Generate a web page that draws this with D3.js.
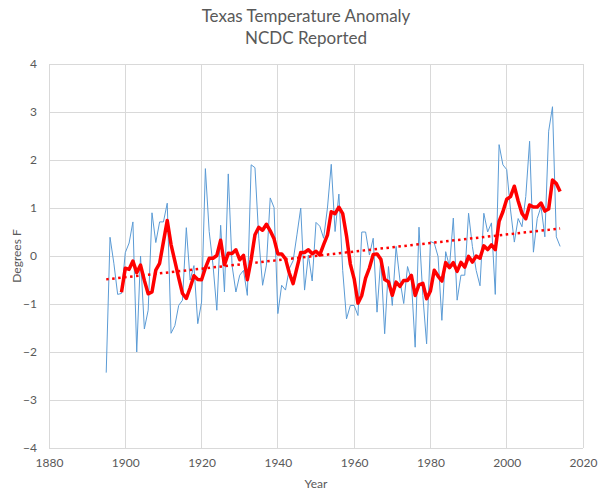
<!DOCTYPE html>
<html>
<head>
<meta charset="utf-8">
<script src="https://cdn.jsdelivr.net/npm/d3@7"></script>
<style>
  html, body { margin: 0; padding: 0; background: #fff; overflow: hidden; }
  svg { display: block; }
  svg text { font-family: Lato, "Open Sans", sans-serif; }
</style>
</head>
<body>
<div id="chart"></div>
<script>
// Texas annual temperature anomaly (deg F)
const firstYear = 1895;
const anomaly = [
  -2.43, 0.39, -0.15, -0.80, -0.78, 0.07, 0.27, 0.71, -2.00, 0.00,   // 1895-1904
  -1.52, -1.13, 0.90, 0.28, 0.71, 0.71, 1.10, -1.61, -1.45, -1.03,   // 1905-1914
  -0.92, 0.59, -0.50, -0.20, -1.41, -0.96, 1.82, 0.51, -0.19, -1.13, // 1915-1924
  0.64, -0.75, 1.71, -0.20, -0.75, -0.40, -0.30, -0.82, 1.90, 1.84,  // 1925-1934
  0.37, -0.61, -0.19, 1.21, 1.01, -1.20, -0.61, -0.71, -0.26, -0.10, // 1935-1944
  0.44, 1.00, -0.71, 0.02, -0.52, 0.70, 0.62, 0.37, 1.00, 1.91,      // 1945-1954
  0.51, 1.29, -0.30, -1.31, -1.03, -1.03, -1.24, 0.50, 0.50, 0.02,   // 1955-1964
  0.37, -1.17, -0.05, -1.62, -0.22, -1.03, 0.20, -0.50, -0.99, -0.22,// 1965-1974
  -0.50, -1.90, 0.60, -0.82, -1.83, 0.30, 0.27, -0.01, -1.34, 0.09,  // 1975-1984
  -0.22, 0.79, -0.92, -0.40, -0.40, 0.89, 0.20, -0.30, -0.62, 0.89,  // 1985-1994
  0.50, 0.69, -0.80, 2.32, 1.90, 1.80, 0.96, 0.29, 0.78, 0.61,       // 1995-2004
  1.24, 2.39, 0.08, 0.78, 1.03, 0.40, 2.60, 3.11, 0.40, 0.20         // 2005-2014
];
const years = anomaly.map((v, i) => firstYear + i);

const xTicks = [1880, 1900, 1920, 1940, 1960, 1980, 2000, 2020];
const yTicks = [-4, -3, -2, -1, 0, 1, 2, 3, 4];
const titleLines = ['Texas Temperature Anomaly', 'NCDC Reported'];
const maPeriod = 5;

const width = 604, height = 502;
const margin = { top: 64, right: 21, bottom: 54, left: 49 };
const innerWidth = width - margin.left - margin.right;
const innerHeight = height - margin.top - margin.bottom;

const points = years.map((y, i) => ({ year: y, value: anomaly[i] }));

// Excel-style trailing moving average
const movingAvg = points.slice(maPeriod - 1).map((p, i) => ({
  year: p.year,
  value: d3.mean(points.slice(i, i + maPeriod), d => d.value)
}));

// Least-squares linear trend
const mx = d3.mean(points, d => d.year), my = d3.mean(points, d => d.value);
const slope = d3.sum(points, d => (d.year - mx) * (d.value - my)) /
              d3.sum(points, d => (d.year - mx) ** 2);
const trend = [years[0], years[years.length - 1]].map(y => ({ year: y, value: my + slope * (y - mx) }));

const svg = d3.select('#chart').append('svg')
  .attr('width', width).attr('height', height);

const x = d3.scaleLinear().domain([1880, 2020]).range([0, innerWidth]);
const y = d3.scaleLinear().domain([-4, 4]).range([innerHeight, 0]);

const g = svg.append('g').attr('transform', `translate(${margin.left},${margin.top})`);

// gridlines
g.append('g').selectAll('line').data(yTicks).enter().append('line')
  .attr('x1', 0).attr('x2', innerWidth)
  .attr('y1', d => y(d)).attr('y2', d => y(d))
  .attr('stroke', '#d9d9d9').attr('stroke-width', 1).attr('shape-rendering', 'crispEdges');
g.append('g').selectAll('line').data(xTicks).enter().append('line')
  .attr('x1', d => x(d)).attr('x2', d => x(d))
  .attr('y1', 0).attr('y2', innerHeight)
  .attr('stroke', '#d9d9d9').attr('stroke-width', 1).attr('shape-rendering', 'crispEdges');

// axes (labels only)
const yAxis = g.append('g').call(d3.axisLeft(y).tickValues(yTicks).tickSize(0).tickPadding(12));
const xAxis = g.append('g').attr('transform', `translate(0,${innerHeight})`)
  .call(d3.axisBottom(x).tickValues(xTicks).tickFormat(d3.format('d')).tickSize(0).tickPadding(10));
[yAxis, xAxis].forEach(a => {
  a.attr('font-family', null).attr('font-size', null);
  a.select('.domain').remove();
  a.selectAll('text').attr('fill', '#595959').style('font-size', '12px');
});

const line = d3.line().x(d => x(d.year)).y(d => y(d.value));

g.append('path').datum(points)
  .attr('fill', 'none').attr('stroke', '#5b9bd5').attr('stroke-width', 1)
  .attr('stroke-linejoin', 'round').attr('d', line);

g.append('path').datum(trend)
  .attr('fill', 'none').attr('stroke', '#ff0000').attr('stroke-width', 2.5)
  .attr('stroke-dasharray', '2.5,3.5').attr('d', line);

g.append('path').datum(movingAvg)
  .attr('fill', 'none').attr('stroke', '#ff0000').attr('stroke-width', 3.5)
  .attr('stroke-linejoin', 'round').attr('d', line);

// titles
svg.append('g').selectAll('text').data(titleLines).enter().append('text')
  .attr('x', 306).attr('y', (d, i) => 22 + i * 22)
  .attr('text-anchor', 'middle').attr('fill', '#595959')
  .style('font-size', '17px').text(d => d);

svg.append('text')
  .attr('x', margin.left + innerWidth / 2).attr('y', 488)
  .attr('text-anchor', 'middle').attr('fill', '#595959')
  .style('font-size', '12px').text('Year');

svg.append('text')
  .attr('transform', `translate(21,${margin.top + innerHeight / 2}) rotate(-90)`)
  .attr('text-anchor', 'middle').attr('fill', '#595959')
  .style('font-size', '12px').text('Degrees F');
</script>
</body>
</html>
